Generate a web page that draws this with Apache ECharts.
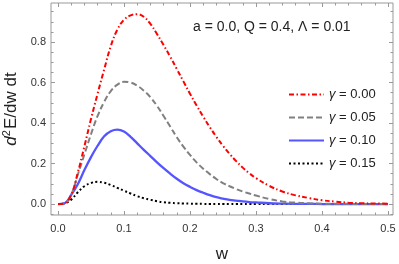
<!DOCTYPE html>
<html>
<head>
<meta charset="utf-8">
<script src="https://cdn.jsdelivr.net/npm/echarts@6/dist/echarts.min.js"></script>
<style>html,body{margin:0;padding:0;background:#fff;}#c{width:399px;height:264px;}</style>
</head>
<body>
<div id="c"></div>
<script>
// ---- data ----
const W = [0,0.01,0.02,0.03,0.04,0.05,0.06,0.07,0.08,0.09,0.10,0.11,0.12,0.13,0.14,0.15,0.16,0.17,0.18,0.19,0.20,
           0.21,0.22,0.23,0.24,0.25,0.26,0.27,0.28,0.29,0.30,0.32,0.34,0.36,0.38,0.40,0.42,0.44,0.46,0.48,0.50];
const gamma000 = [0,0.004,0.045,0.155,0.285,0.42,0.545,0.665,0.78,0.862,0.91,0.932,0.938,0.925,0.89,0.84,0.785,0.728,0.667,0.606,0.545,
           0.487,0.432,0.38,0.332,0.288,0.248,0.212,0.18,0.152,0.128,0.09,0.062,0.043,0.03,0.019,0.012,0.007,0.004,0.003,0.002];
const gamma005 = [0,0.004,0.045,0.145,0.245,0.345,0.435,0.505,0.558,0.59,0.604,0.60,0.585,0.56,0.528,0.485,0.435,0.383,0.33,0.284,0.243,
           0.206,0.175,0.148,0.124,0.104,0.088,0.074,0.062,0.052,0.042,0.025,0.013,0.007,0.004,0.002,0.001,0.001,0,0,0];
const gamma010 = [0,0.004,0.045,0.098,0.168,0.232,0.288,0.335,0.36,0.368,0.358,0.332,0.30,0.268,0.237,0.206,0.177,0.15,0.125,0.103,0.085,
           0.069,0.056,0.044,0.034,0.027,0.021,0.017,0.013,0.010,0.008,0.004,0.002,0.001,0.001,0,0,0,0,0,0];
const gamma015 = [0,0.003,0.022,0.058,0.088,0.104,0.110,0.105,0.094,0.080,0.066,0.052,0.039,0.029,0.021,0.014,0.009,0.006,0.004,0.003,0.002,
           0.001,0.001,0,0,0,0,0,0,0,0,0,0,0,0,0,0,0,0,0,0];
const seriesNames = ['0.00','0.05','0.10','0.15'];
const xMajor = [0,0.1,0.2,0.3,0.4,0.5];
const xMajorLabels = ['0.0','0.1','0.2','0.3','0.4','0.5'];
const xMinor = [0.02,0.04,0.06,0.08,0.12,0.14,0.16,0.18,0.22,0.24,0.26,0.28,0.32,0.34,0.36,0.38,0.42,0.44,0.46,0.48];
const yMajor = [0,0.2,0.4,0.6,0.8];
const yMajorLabels = ['0.0','0.2','0.4','0.6','0.8'];
const yMinor = [-0.05,0.05,0.1,0.15,0.25,0.3,0.35,0.45,0.5,0.55,0.65,0.7,0.75,0.85,0.9,0.95];
const titleText = 'a = 0.0, Q = 0.4, Λ = 0.01';

const XMIN = -0.0106, XMAX = 0.5076, YMIN = -0.054, YMAX = 0.993;
const FONT = 'Liberation Sans';
const FRAME = '#999999';

function pairs(v){ return W.map((w,i)=>[w, v[i]]); }
function lbl(vals, labels){ return function(v){ const i = vals.findIndex(t=>Math.abs(t-v)<1e-9); return i>=0?labels[i]:''; }; }

function xAx(pos, ticks, len, labels){
  return {type:'value', position:pos, min:XMIN, max:XMAX, gridIndex:0,
    axisLine:{show:false, onZero:false}, splitLine:{show:false},
    axisTick:{show:true, inside:true, length:len, customValues:ticks, lineStyle:{color:FRAME, width:1}},
    axisLabel: labels ? {show:true, customValues:ticks, formatter:lbl(xMajor, xMajorLabels), margin:8,
      fontSize:11, fontFamily:FONT, color:'#333'} : {show:false}};
}
function yAx(pos, ticks, len, labels){
  return {type:'value', position:pos, min:YMIN, max:YMAX, gridIndex:0,
    axisLine:{show:false, onZero:false}, splitLine:{show:false},
    axisTick:{show:true, inside:true, length:len, customValues:ticks, lineStyle:{color:FRAME, width:1}},
    axisLabel: labels ? {show:true, customValues:ticks, formatter:lbl(yMajor, yMajorLabels), margin:5,
      fontSize:11, fontFamily:FONT, color:'#333'} : {show:false}};
}

const xAxes = [xAx('bottom', xMajor, 4, true), xAx('bottom', xMinor, 2.5, false),
               xAx('top', xMajor, 4, false), xAx('top', xMinor, 2.5, false)];
xAxes[0].name = 'w';
xAxes[0].nameLocation = 'middle';
xAxes[0].nameGap = 31;
xAxes[0].nameTextStyle = {fontSize:17, fontFamily:FONT, color:'#222'};

const yAxes = [yAx('left', yMajor, 4, true), yAx('left', yMinor, 2.5, false),
               yAx('right', yMajor, 4, false), yAx('right', yMinor, 2.5, false)];
yAxes[0].name = '{i|d}{s|2}E/dw dt';
yAxes[0].nameLocation = 'middle';
yAxes[0].nameGap = 26;
yAxes[0].nameRotate = 90;
yAxes[0].nameTextStyle = {fontSize:17, fontFamily:FONT, color:'#222',
  rich:{i:{fontStyle:'italic', fontSize:17, fontFamily:FONT, color:'#222'},
        s:{fontSize:11, fontFamily:FONT, color:'#222', padding:[0,1,9,0]}}};

const styles = [
  {color:'#ff0000', width:2, type:[5,2.5,1.5,2.5]},
  {color:'#808080', width:2, type:[6,3]},
  {color:'#5555ff', width:2.3, type:'solid'},
  {color:'#000000', width:2, type:[2,2.5]}
];
const vals = [gamma000, gamma005, gamma010, gamma015];

const chart = echarts.init(document.getElementById('c'), null, {renderer:'canvas'});
chart.setOption({
  backgroundColor:'#ffffff',
  animation:false,
  grid:{left:51, right:6, top:3, bottom:49, show:true, borderColor:FRAME, borderWidth:1, backgroundColor:'transparent',
        containLabel:false, outerBoundsMode:'none'},
  xAxis:xAxes,
  yAxis:yAxes,
  legend:{orient:'vertical', left:283, top:83, itemWidth:35, itemHeight:14, itemGap:10,
    data:seriesNames, formatter:n=>'{i|γ} = '+n,
    itemStyle:{opacity:0},
    textStyle:{fontSize:13, fontFamily:FONT, color:'#222', rich:{i:{fontStyle:'italic', fontSize:13, fontFamily:FONT, color:'#222'}}}},
  graphic:[{type:'text', left:193, top:20, style:{text:titleText, font:'14px "Liberation Sans"', fill:'#222'}}],
  series: vals.map((v,k)=>({
    name:seriesNames[k], type:'line', xAxisIndex:0, yAxisIndex:0, data:pairs(v),
    smooth:0.4, symbol:'none', showSymbol:false, clip:true,
    lineStyle:styles[k], itemStyle:{color:styles[k].color}, z:10-k
  }))
});
</script>
</body>
</html>
